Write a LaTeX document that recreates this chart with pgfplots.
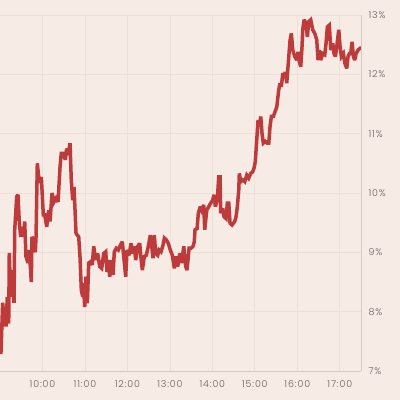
\documentclass[border=0pt]{standalone}
\usepackage{fontspec}
\setmainfont{Poppins}
\newfontfamily\tickfont[LetterSpace=9]{Poppins Light}
\usepackage{pgfplots}
\pgfplotsset{compat=1.18}
\definecolor{bg}{HTML}{F6EBE5}
\definecolor{gridc}{HTML}{EEE0D6}
\definecolor{axisc}{HTML}{D6C9C1}
\definecolor{linec}{HTML}{BD3B3B}
\definecolor{labc}{HTML}{66615D}
\begin{document}
\begin{tikzpicture}[x=1pt,y=1pt]
\fill[bg] (0,0) rectangle (400,400);
\begin{axis}[
  at={(0pt,29pt)}, anchor=south west,
  scale only axis, width=361pt, height=356pt,
  xmin=0, xmax=510, ymin=7, ymax=13,
  axis x line*=bottom, axis y line*=right,
  axis line style={axisc, line width=0.8pt},
  xtick={60,120,180,240,300,360,420,480},
  xticklabels={10:00,11:00,12:00,13:00,14:00,15:00,16:00,17:00},
  ytick={7,8,9,10,11,12,13},
  yticklabels={7\%,8\%,9\%,10\%,11\%,12\%,13\%},
  major tick length=0pt,
  grid=major, major grid style={gridc, line width=0.7pt},
  tick label style={font=\tickfont\fontsize{9.5}{10}\selectfont, text=labc},
  xticklabel style={yshift=-6pt},
  yticklabel style={xshift=4pt},
  /pgf/number format/assume math mode=true,
]
\addplot[linec, line width=3.5pt, line join=miter, miter limit=3] coordinates {
(0,7.32)(1.4,7.32)(3.8,8.15)(5.7,7.75)(6.6,8.08)(8.5,7.75)(10.3,8.25)(12.3,7.8)(13.1,8.99)(15.1,8.25)(17,8.7)(19.8,8.15)(20.8,9.38)(23.6,9.94)(25.4,9.97)(27.3,9.5)(29.2,9.26)(31.1,9.43)(32.9,9.26)(34.9,9.52)(36.7,8.93)(39.6,8.82)(41.4,9.04)(44.2,8.5)(45.2,9.26)(48,9.2)(49.9,9.0)(50.9,9.26)(52.7,10.5)(55.5,10.17)(58.4,10.27)(61.2,9.63)(63.2,9.63)(66,9.43)(68.8,9.71)(70.7,9.52)(73.5,10.0)(76.3,9.85)(79.1,9.91)(82,9.85)(84.8,10.44)(86.6,10.67)(89.4,10.67)(92.3,10.56)(94.2,10.75)(96.1,10.64)(98.9,10.84)(100.7,10.22)(102.7,9.88)(104.6,10.1)(107.4,9.32)(111.2,9.26)(113,8.93)(114.9,8.36)(116.9,8.25)(117.7,8.48)(119.7,8.08)(121.5,8.59)(123.4,8.14)(125.3,8.82)
(127.6,8.84)(130.4,8.79)(132.4,9.1)(135.2,8.87)(138,8.98)(140.9,8.76)(143.7,8.73)(146.5,8.98)(149.4,9.01)(151.2,8.67)(153,8.87)(155,8.59)(157.8,8.87)(159.7,8.62)(161.5,9.01)(164.3,9.07)(167.2,9.04)(170,9.12)(172.8,9.18)(174.8,8.93)(177.6,8.59)(179.5,9.04)(182.3,8.95)(185.1,9.15)(187.9,8.98)(189.8,9.1)(191.7,8.87)(194.6,9.1)(197.4,9.15)(199.2,8.9)(201.1,8.7)(203.9,8.93)(206.7,8.95)(209.5,9.1)(212.4,9.29)(214.4,9.1)(216.2,8.9)(218,9.29)(220,8.98)(222.8,8.95)(224.7,9.04)(227.5,9.01)(230.3,9.12)(232.2,9.24)(235,9.21)(237.8,9.15)(240.6,9.04)(243.5,8.95)(246.3,8.73)(249.1,8.93)(251.1,8.76)(253.9,8.98)(256.7,8.82)(259.6,9.1)(262.4,8.76)(264.2,8.7)(267.1,9.07)(269.9,9.07)(272.7,9.1)(274.5,9.18)(275.5,9.38)(278.4,9.4)(280.2,9.66)(283,9.77)(285,9.71)
(287.8,9.8)(289.2,9.38)(292.1,9.71)(294.9,9.77)(297.7,9.83)(300.5,9.88)(302.4,9.97)(304.2,9.77)(307,9.88)(309,10.27)(310.9,10.27)(311.8,9.66)(314.7,9.74)(316.5,9.6)(319.3,9.57)(321.2,9.83)(323.2,9.83)(325,9.49)(327.8,9.46)(329.7,9.49)(331.6,9.52)(333.5,9.6)(335.3,9.77)(337.3,10.05)(338.1,10.33)(340.1,10.19)(342.9,10.22)(345.8,10.19)(348.6,10.3)(351.4,10.25)(354.2,10.33)(357.1,10.36)(358.9,10.42)(360.7,10.53)(362.7,10.89)(364.6,11.23)(366.4,11.12)(368.4,11.29)(370.2,11.0)(372,10.84)(374.9,10.87)(377.7,10.84)(379.7,10.84)(381.5,11.12)
(383.4,11.29)(386.2,11.29)(391,11.45)(393.8,11.74)(395.6,11.85)(397.5,11.79)(399.5,12.02)(401.3,11.96)(403.1,12.04)(405.1,11.85)(406.9,12.13)(409.8,12.58)(411.6,12.69)(413.6,12.41)(416.4,12.3)(419.2,12.24)(421.1,12.38)(422.9,12.21)(424.9,12.13)(426.7,12.47)(427.7,12.75)(429.6,12.92)(432.4,12.86)(434.2,12.63)(436.2,12.89)(439,12.92)(441.8,12.75)(444.7,12.69)(447.5,12.58)(449.3,12.24)(451.2,12.41)(453.1,12.24)(456,12.35)(458.8,12.33)(460.6,12.52)(462.5,12.8)(465.3,12.83)(467.3,12.41)(470.1,12.52)(471.9,12.35)(473.8,12.3)(475.8,12.47)(478.6,12.75)(480.4,12.47)(482.3,12.3)(485.1,12.35)(487.1,12.19)(489.9,12.1)(491.7,12.3)(493.6,12.35)(495.5,12.35)(497.4,12.55)(499.2,12.3)(501.2,12.24)(503,12.35)(505.9,12.41)(508.7,12.44)(510,12.44)
};
\end{axis}
\pgfresetboundingbox
\useasboundingbox (0,0) rectangle (400,400);
\end{tikzpicture}
\end{document}
